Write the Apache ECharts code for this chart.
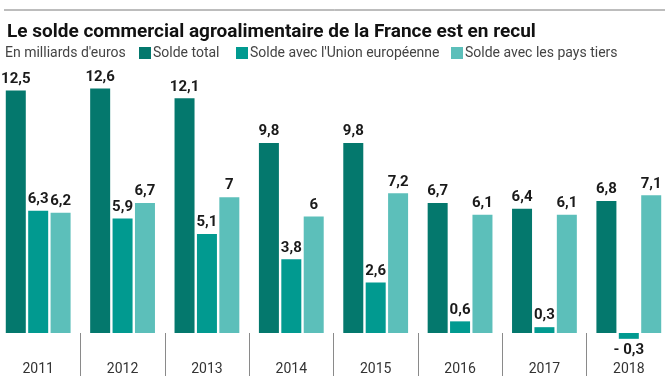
<!DOCTYPE html>
<html><head><meta charset="utf-8">
<script src="https://cdn.jsdelivr.net/npm/echarts@6/dist/echarts.min.js"></script>
<style>html,body{margin:0;padding:0;background:#fff}#c{width:671px;height:384px}</style>
</head><body><div id="c"></div>
<script>
const years = ['2011','2012','2013','2014','2015','2016','2017','2018'];
const soldeTotal = [12.5, 12.6, 12.1, 9.8, 9.8, 6.7, 6.4, 6.8];
const soldeUE = [6.3, 5.9, 5.1, 3.8, 2.6, 0.6, 0.3, -0.3];
const soldeTiers = [6.2, 6.7, 7, 6, 7.2, 6.1, 6.1, 7.1];
const seriesNames = ['Solde total', "Solde avec l'Union européenne", 'Solde avec les pays tiers'];
const colors = ['#04786d', '#019a90', '#5cbfba'];

const fmt = v => v < 0 ? '- ' + String(-v).replace('.', ',') : String(v).replace('.', ',');
const FONT = 'Roboto';
function mk(name, arr, color) {
  return {
    name, type: 'bar', barWidth: 20, barGap: '12%',
    itemStyle: { color },
    data: arr.map(v => ({ value: v, label: { position: v < 0 ? 'bottom' : 'top' } })),
    label: { show: true, formatter: p => fmt(p.value), fontFamily: FONT, fontWeight: 'bold', fontSize: 15, color: '#1a1a1a', distance: 4 }
  };
}
const legendLefts = [139, 236, 451];
const chart = echarts.init(document.getElementById('c'), null, { renderer: 'canvas' });
chart.setOption({
  animation: false,
  textStyle: { fontFamily: FONT },
  grid: { left: -4, right: 0, top: 61.4, height: 291, outerBoundsMode: 'none' },
  graphic: [
    { type: 'line', shape: { x1: 4, y1: 10, x2: 665, y2: 10 }, style: { stroke: '#7a7a7a', lineWidth: 1 } },
    { type: 'text', x: 7, y: 32, style: { text: 'Le solde commercial agroalimentaire de la France est en recul', font: 'bold 19px Roboto', fill: '#111', verticalAlign: 'middle' } },
    { type: 'text', x: 5, y: 53, style: { text: "En milliards d'euros", font: '14px Roboto', fill: '#444', verticalAlign: 'middle' } }
  ],
  legend: seriesNames.map((n, i) => ({
    left: legendLefts[i], top: 46, padding: 0, itemWidth: 12, itemHeight: 12, icon: 'rect',
    textStyle: { fontSize: 14, color: '#444', fontFamily: FONT, padding: [0, 0, 0, -3] },
    data: [n]
  })),
  xAxis: {
    type: 'category', data: years,
    axisLine: { show: false, onZero: true },
    axisTick: { show: true, length: 43, lineStyle: { color: '#8a8a8a', width: 1 } },
    axisLabel: { margin: 10, fontSize: 14, color: '#333', fontFamily: FONT }
  },
  yAxis: { type: 'value', min: -1, max: 14, show: false, splitLine: { show: false } },
  series: [mk(seriesNames[0], soldeTotal, colors[0]), mk(seriesNames[1], soldeUE, colors[1]), mk(seriesNames[2], soldeTiers, colors[2])]
});
</script></body></html>
